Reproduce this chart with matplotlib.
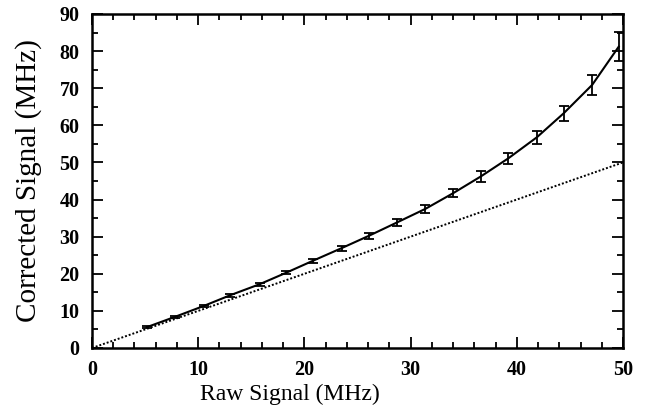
import matplotlib
matplotlib.use("Agg")
import matplotlib.pyplot as plt
from matplotlib.ticker import MultipleLocator

# Measured rates and corrected rates with uncertainties
raw_signal = [5.15, 7.82, 10.5, 13.0, 15.8, 18.3, 20.8, 23.5, 26.05, 28.7,
              31.4, 34.0, 36.6, 39.2, 41.9, 44.4, 47.1, 49.6]
corrected_signal = [5.6, 8.4, 11.3, 14.2, 17.2, 20.3, 23.5, 26.9, 30.2, 33.8,
                    37.5, 41.7, 46.2, 51.1, 56.8, 63.2, 70.9, 81.2]
corrected_error = [0.25, 0.3, 0.3, 0.35, 0.4, 0.45, 0.55, 0.65, 0.75, 0.9,
                   1.1, 1.15, 1.4, 1.5, 1.75, 2.1, 2.7, 4.0]

# Uncorrected reference (corrected = raw)
identity_x = [0, 50]
identity_y = [0, 50]

plt.rcParams["font.family"] = ["Liberation Serif", "DejaVu Serif"]

fig = plt.figure(figsize=(6.47, 4.11), dpi=100)
ax = fig.add_axes([0.1422, 0.1533, 0.8207, 0.8127])

ax.plot(identity_x, identity_y, linestyle=(0, (1, 1)), color="black", linewidth=1.4)
ax.plot(raw_signal, corrected_signal, color="black", linewidth=1.5)
ax.errorbar(raw_signal, corrected_signal, yerr=corrected_error, fmt="none",
            ecolor="black", elinewidth=1.3, capsize=3.8, capthick=1.3)

ax.set_xlim(0, 50)
ax.set_ylim(0, 90)
ax.xaxis.set_major_locator(MultipleLocator(10))
ax.xaxis.set_minor_locator(MultipleLocator(2))
ax.yaxis.set_major_locator(MultipleLocator(10))
ax.yaxis.set_minor_locator(MultipleLocator(5))

ax.tick_params(which="both", direction="in", top=True, right=True,
               width=1.3, colors="black")
ax.tick_params(which="major", length=8, labelsize=14.5, pad=9)
ax.tick_params(which="minor", length=4)
for lab in ax.get_xticklabels() + ax.get_yticklabels():
    lab.set_fontweight("bold")

for sp in ax.spines.values():
    sp.set_linewidth(1.8)

ax.set_xlabel("Raw Signal (MHz)", fontsize=17)
ax.set_ylabel("Corrected Signal (MHz)", fontsize=21)
ax.xaxis.set_label_coords(0.373, -0.108)
ax.yaxis.set_label_coords(-0.094, 0.5)

fig.savefig("out.png", dpi=100)
